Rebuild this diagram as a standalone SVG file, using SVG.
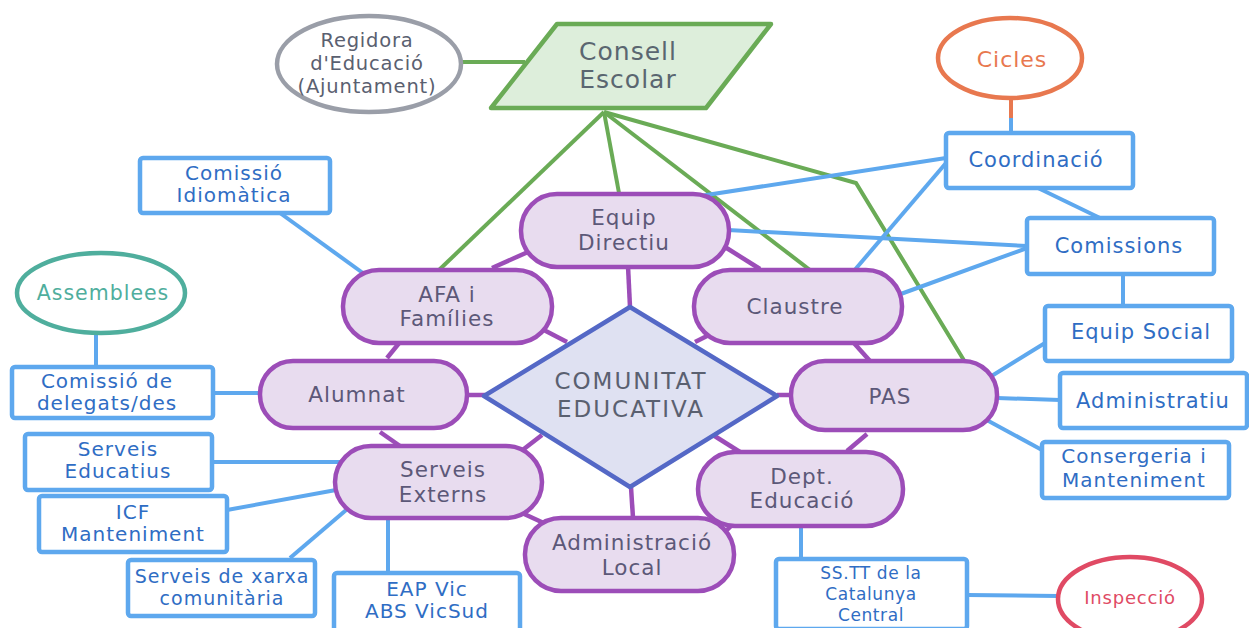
<svg xmlns="http://www.w3.org/2000/svg" width="1249" height="628" viewBox="0 0 1249 628">
<style>
text{font-family:"DejaVu Sans","Liberation Sans",sans-serif;text-anchor:middle;dominant-baseline:central}
.pill{fill:#e8dcef;stroke:#9c4db8;stroke-width:4.5}
.pt{fill:#5c5878;font-size:21.5px;letter-spacing:1px}
.box{fill:#fff;stroke:#5ea8ee;stroke-width:4.5}
.bt{fill:#2f6dc4;font-size:20px;letter-spacing:1px}
.bt1{fill:#2f6dc4;font-size:21px;letter-spacing:1px}
.bts{fill:#2f6dc4;font-size:17px;letter-spacing:0.6px}
.btx{fill:#2f6dc4;font-size:19px;letter-spacing:1px}
.cg{stroke:#6aab56;stroke-width:4;fill:none}
.cb{stroke:#5ea8ee;stroke-width:4;fill:none}
.cp{stroke:#9c4db8;stroke-width:4.5;fill:none}
</style>
<rect width="1249" height="628" fill="#fff"/>
<g id="connectors">
<line class="cg" x1="462" y1="62" x2="525" y2="62"/>
<line class="cg" x1="604" y1="112" x2="439" y2="270"/>
<line class="cg" x1="604" y1="112" x2="619" y2="193"/>
<line class="cg" x1="604" y1="112" x2="810" y2="270"/>
<polyline class="cg" points="604,112 856,183 965,362"/>
<line x1="1011" y1="99" x2="1011" y2="119" stroke="#e8784f" stroke-width="4"/>
<line class="cb" x1="1011" y1="118" x2="1011" y2="133"/>
<line class="cb" x1="700" y1="196" x2="946" y2="158"/>
<line class="cb" x1="728" y1="230" x2="1027" y2="246"/>
<line class="cb" x1="853" y1="272" x2="946" y2="163"/>
<line class="cb" x1="898" y1="295" x2="1027" y2="248"/>
<line class="cb" x1="1038" y1="188" x2="1100" y2="218"/>
<line class="cb" x1="1123" y1="274" x2="1123" y2="306"/>
<line class="cb" x1="990" y1="377" x2="1045" y2="343"/>
<line class="cb" x1="997" y1="398" x2="1060" y2="400"/>
<line class="cb" x1="983" y1="418" x2="1042" y2="450"/>
<line class="cb" x1="801" y1="526" x2="801" y2="559"/>
<line class="cb" x1="967" y1="595" x2="1058" y2="596"/>
<line class="cb" x1="280" y1="213" x2="367" y2="276"/>
<line class="cb" x1="96" y1="333" x2="96" y2="367"/>
<line class="cb" x1="213" y1="393" x2="261" y2="393"/>
<line class="cb" x1="212" y1="462" x2="345" y2="462"/>
<line class="cb" x1="227" y1="510" x2="336" y2="490"/>
<line class="cb" x1="290" y1="558" x2="352" y2="505"/>
<line class="cb" x1="388" y1="516" x2="388" y2="573"/>
<line class="cp" x1="628" y1="266" x2="630" y2="307"/>
<line class="cp" x1="540" y1="328" x2="567" y2="342"/>
<line class="cp" x1="695" y1="342" x2="713" y2="333"/>
<line class="cp" x1="466" y1="395" x2="485" y2="395"/>
<line class="cp" x1="777" y1="395" x2="792" y2="395"/>
<line class="cp" x1="520" y1="452" x2="542" y2="435"/>
<line class="cp" x1="713" y1="435" x2="740" y2="452"/>
<line class="cp" x1="631" y1="487" x2="633" y2="518"/>
<line class="cp" x1="492" y1="268" x2="528" y2="252"/>
<line class="cp" x1="725" y1="247" x2="760" y2="269"/>
<line class="cp" x1="387" y1="358" x2="400" y2="342"/>
<line class="cp" x1="853" y1="342" x2="870" y2="361"/>
<line class="cp" x1="380" y1="432" x2="400" y2="446"/>
<line class="cp" x1="522" y1="513" x2="548" y2="525"/>
<line class="cp" x1="724" y1="533" x2="733" y2="524"/>
<line class="cp" x1="847" y1="451" x2="867" y2="434"/>
</g>
<g id="consell-escolar">
<polygon points="557,24 771,24 706,108 491,108" fill="#ddeedb" stroke="#6aab56" stroke-width="4.5" stroke-linejoin="round"/>
<text x="628" y="51" fill="#5a6670" font-size="25px" letter-spacing="1">Consell</text>
<text x="628" y="79" fill="#5a6670" font-size="25px" letter-spacing="1">Escolar</text>
</g>
<g id="regidora">
<ellipse cx="369" cy="64" rx="92" ry="48" fill="#fff" stroke="#9a9ea8" stroke-width="4.5"/>
<text x="367" y="40" fill="#5a6070" font-size="19.5px" letter-spacing="0.8">Regidora</text>
<text x="367" y="63" fill="#5a6070" font-size="19.5px" letter-spacing="0.8">d'Educació</text>
<text x="367" y="86" fill="#5a6070" font-size="19.5px" letter-spacing="0.8">(Ajuntament)</text>
</g>
<g id="cicles">
<ellipse cx="1010" cy="58" rx="72" ry="40" fill="#fff" stroke="#e8784f" stroke-width="4.5"/>
<text x="1012" y="59" fill="#e8784f" font-size="22px" letter-spacing="1">Cicles</text>
</g>
<g id="coordinacio">
<rect class="box" x="946" y="133" width="187" height="55" rx="3"/>
<text class="bt1" x="1036" y="160">Coordinació</text>
</g>
<g id="comissions">
<rect class="box" x="1027" y="218" width="187" height="56" rx="3"/>
<text class="bt1" x="1119" y="246">Comissions</text>
</g>
<g id="equip-social">
<rect class="box" x="1045" y="306" width="187" height="55" rx="3"/>
<text class="bt1" x="1141" y="332">Equip Social</text>
</g>
<g id="administratiu">
<rect class="box" x="1060" y="373" width="187" height="55" rx="3"/>
<text class="bt1" x="1153" y="401">Administratiu</text>
</g>
<g id="consergeria">
<rect class="box" x="1042" y="442" width="187" height="56" rx="3"/>
<text class="bt" x="1134" y="456">Consergeria i</text>
<text class="bt" x="1134" y="480">Manteniment</text>
</g>
<g id="sstt">
<rect class="box" x="776" y="559" width="191" height="70" rx="3"/>
<text class="bts" x="871" y="573">SS.TT de la</text>
<text class="bts" x="871" y="594">Catalunya</text>
<text class="bts" x="871" y="615">Central</text>
</g>
<g id="inspeccio">
<ellipse cx="1130" cy="599" rx="72" ry="42" fill="#fff" stroke="#e04a64" stroke-width="4.5"/>
<text x="1130" y="597" fill="#e04a64" font-size="18px" letter-spacing="0.8">Inspecció</text>
</g>
<g id="comissio-idiomatica">
<rect class="box" x="140" y="158" width="190" height="55" rx="3"/>
<text class="bt" x="234" y="173">Comissió</text>
<text class="bt" x="234" y="195">Idiomàtica</text>
</g>
<g id="assemblees">
<ellipse cx="101" cy="293" rx="84" ry="40" fill="#fff" stroke="#4fae9d" stroke-width="4.5"/>
<text x="103" y="293" fill="#4fae9d" font-size="20.5px" letter-spacing="1">Assemblees</text>
</g>
<g id="comissio-delegats">
<rect class="box" x="12" y="367" width="201" height="51" rx="3"/>
<text class="bt" x="107" y="381">Comissió de</text>
<text class="bt" x="107" y="403">delegats/des</text>
</g>
<g id="serveis-educatius">
<rect class="box" x="25" y="434" width="187" height="56" rx="3"/>
<text class="bt" x="118" y="449">Serveis</text>
<text class="bt" x="118" y="471">Educatius</text>
</g>
<g id="icf">
<rect class="box" x="39" y="496" width="188" height="56" rx="3"/>
<text class="bt" x="133" y="512">ICF</text>
<text class="bt" x="133" y="534">Manteniment</text>
</g>
<g id="serveis-xarxa">
<rect class="box" x="128" y="560" width="187" height="56" rx="3"/>
<text class="btx" x="222" y="576">Serveis de xarxa</text>
<text class="btx" x="222" y="598">comunitària</text>
</g>
<g id="eap">
<rect class="box" x="334" y="573" width="186" height="60" rx="3"/>
<text class="bt" x="427" y="589">EAP Vic</text>
<text class="bt" x="427" y="611">ABS VicSud</text>
</g>
<g id="equip-directiu">
<rect class="pill" x="521" y="194" width="208" height="73" rx="36"/>
<text class="pt" x="624" y="217">Equip</text>
<text class="pt" x="624" y="242">Directiu</text>
</g>
<g id="afa">
<rect class="pill" x="343" y="270" width="209" height="73" rx="36"/>
<text class="pt" x="447" y="294">AFA i</text>
<text class="pt" x="447" y="318">Famílies</text>
</g>
<g id="claustre">
<rect class="pill" x="694" y="270" width="208" height="73" rx="36"/>
<text class="pt" x="795" y="306">Claustre</text>
</g>
<g id="alumnat">
<rect class="pill" x="260" y="361" width="207" height="67" rx="33"/>
<text class="pt" x="357" y="394">Alumnat</text>
</g>
<g id="pas">
<rect class="pill" x="791" y="361" width="206" height="69" rx="34"/>
<text class="pt" x="890" y="396">PAS</text>
</g>
<g id="serveis-externs">
<rect class="pill" x="335" y="446" width="207" height="72" rx="36"/>
<text class="pt" x="443" y="469">Serveis</text>
<text class="pt" x="443" y="494">Externs</text>
</g>
<g id="dept-educacio">
<rect class="pill" x="698" y="452" width="205" height="74" rx="37"/>
<text class="pt" x="802" y="476">Dept.</text>
<text class="pt" x="802" y="500">Educació</text>
</g>
<g id="administracio-local">
<rect class="pill" x="525" y="518" width="209" height="73" rx="36"/>
<text class="pt" x="632" y="542">Administració</text>
<text class="pt" x="632" y="567">Local</text>
</g>
<g id="comunitat-educativa">
<polygon points="630,307 777,396 630,487 484,396" fill="#dfe1f2" stroke="#5468c6" stroke-width="4.5" stroke-linejoin="round"/>
<text x="631" y="381" fill="#5a6070" font-size="23px" letter-spacing="2">COMUNITAT</text>
<text x="631" y="409" fill="#5a6070" font-size="23px" letter-spacing="2">EDUCATIVA</text>
</g>
</svg>
